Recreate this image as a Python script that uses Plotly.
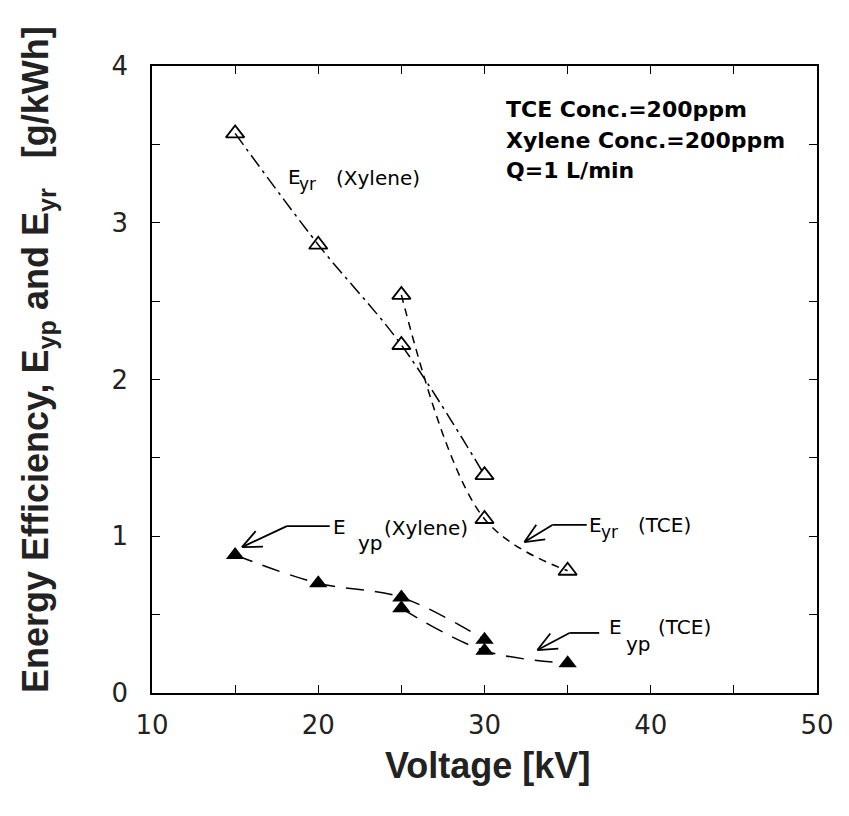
import math
import plotly.graph_objects as go

# Data
voltage_yr_xylene = [15, 20, 25, 30]
eyr_xylene = [3.57, 2.86, 2.22, 1.39]
voltage_yr_tce = [25, 30, 35]
eyr_tce = [2.54, 1.11, 0.78]
voltage_yp_xylene = [15, 20, 25, 30]
eyp_xylene = [0.88, 0.70, 0.61, 0.34]
voltage_yp_tce = [25, 30, 35]
eyp_tce = [0.54, 0.27, 0.19]

x_ticks = [10, 20, 30, 40, 50]
y_ticks = [0, 1, 2, 3, 4]

W, H = 849, 816
ML, MR, MT, MB = 152, 32, 66, 123
XR, YR = (10, 50), (0, 4)
PX = (W - ML - MR) / (XR[1] - XR[0])
PY = (H - MT - MB) / (YR[1] - YR[0])

fig = go.Figure()
lw = 1.5
fig.add_trace(go.Scatter(x=voltage_yr_xylene, y=eyr_xylene, mode="lines+markers",
                         line=dict(color="black", width=lw, shape="spline", dash="14px,5px,3px,5px"),
                         marker=dict(symbol="triangle-up-open", size=16, color="black",
                                     line=dict(width=1.8, color="black"))))
fig.add_trace(go.Scatter(x=voltage_yr_tce, y=eyr_tce, mode="lines+markers",
                         line=dict(color="black", width=lw, shape="spline", dash="8px,6px"),
                         marker=dict(symbol="triangle-up-open", size=16, color="black",
                                     line=dict(width=1.8, color="black"))))
fig.add_trace(go.Scatter(x=voltage_yp_xylene, y=eyp_xylene, mode="lines+markers",
                         line=dict(color="black", width=lw, shape="spline", dash="18px,11px"),
                         marker=dict(symbol="triangle-up", size=16, color="black")))
fig.add_trace(go.Scatter(x=voltage_yp_tce, y=eyp_tce, mode="lines+markers",
                         line=dict(color="black", width=lw, shape="spline", dash="18px,11px"),
                         marker=dict(symbol="triangle-up", size=16, color="black")))

LINE = dict(color="black", width=1.8)

def arrow(head, bend, tail):
    fig.add_shape(type="line", x0=head[0], y0=head[1], x1=bend[0], y1=bend[1],
                  xref="x", yref="y", line=LINE)
    fig.add_shape(type="line", x0=bend[0], y0=bend[1], x1=tail[0], y1=tail[1],
                  xref="x", yref="y", line=LINE)
    dx = (bend[0] - head[0]) * PX
    dy = (bend[1] - head[1]) * PY
    n = math.hypot(dx, dy)
    ux, uy = dx / n, dy / n
    for a in (math.radians(24), math.radians(-24)):
        rx = ux * math.cos(a) - uy * math.sin(a)
        ry = ux * math.sin(a) + uy * math.cos(a)
        fig.add_shape(type="line", xref="x", yref="y",
                      xsizemode="pixel", ysizemode="pixel",
                      xanchor=head[0], yanchor=head[1],
                      x0=0, y0=0, x1=rx * 21, y1=ry * 21, line=LINE)

def label(x, y, text, size=20, font="DejaVu Sans"):
    fig.add_annotation(x=x, y=y, xref="x", yref="y", text=text, showarrow=False,
                       xanchor="left", yanchor="middle",
                       font=dict(family=font, size=size, color="black"))

# E_yr (Xylene)
label(18.05, 3.29, "E")
label(18.75, 3.25, "yr", 17)
label(20.95, 3.285, "(Xylene)")
# E_yp (Xylene)
arrow((15.41, 0.931), (18.11, 1.065), (20.69, 1.065))
label(20.78, 1.06, "E")
label(22.3, 0.955, "yp", 20)
label(23.85, 1.053, "(Xylene)")
# E_yr (TCE)
arrow((32.40, 0.963), (34.08, 1.072), (36.15, 1.072))
label(36.17, 1.072, "E")
label(36.88, 1.025, "yr", 17)
label(39.1, 1.072, "(TCE)")
# E_yp (TCE)
arrow((33.18, 0.274), (35.11, 0.383), (36.9, 0.383))
label(37.37, 0.421, "E")
label(38.4, 0.313, "yp", 20)
label(40.3, 0.421, "(TCE)")

# condition box
box_lines = ["TCE Conc.=200ppm", "Xylene Conc.=200ppm", "Q=1 L/min"]
box_y = [3.725, 3.522, 3.332]
for t, yy in zip(box_lines, box_y):
    label(31.15, yy, "<b>" + t + "</b>", 22, "DejaVu Sans")

# axis titles (as annotations for precise placement)
tfont = dict(family="Liberation Sans, Arial", size=36, color="#222")
fig.add_annotation(xref="paper", yref="paper", x=(487 - ML) / (W - ML - MR),
                   y=-(765 - (H - MB)) / (H - MT - MB), xanchor="center", yanchor="middle",
                   text="<b>Voltage [kV]</b>", showarrow=False, font=tfont)
fig.add_annotation(xref="paper", yref="paper", x=-(ML - 38) / (W - ML - MR),
                   y=((H - MB) - 360) / (H - MT - MB), xanchor="center", yanchor="middle",
                   textangle=-90, showarrow=False, font=tfont,
                   text="<b>Energy Efficiency, E<sub>yp</sub> and E<sub>yr</sub>&nbsp;&nbsp;&nbsp;[g/kWh]</b>")

axis_common = dict(showline=True, linecolor="black", linewidth=1.6, mirror="ticks",
                   ticks="inside", ticklen=8, tickwidth=1.3, tickcolor="black",
                   showgrid=False, zeroline=False,
                   tickfont=dict(family="DejaVu Sans", size=26, color="#222"))

fig.update_layout(
    width=W, height=H, plot_bgcolor="white", paper_bgcolor="white",
    margin=dict(l=ML, r=MR, t=MT, b=MB), showlegend=False,
    xaxis=dict(range=list(XR), tickvals=x_ticks, ticktext=[str(v) for v in x_ticks],
               minor=dict(dtick=5, ticks="inside", ticklen=8, tickcolor="black"),
               ticklabelstandoff=8, **axis_common),
    yaxis=dict(range=list(YR), tickvals=y_ticks, ticktext=[str(v) for v in y_ticks],
               minor=dict(dtick=0.5, ticks="inside", ticklen=8, tickcolor="black"),
               ticklabelstandoff=17, **axis_common),
)

fig.write_html("out.html")
